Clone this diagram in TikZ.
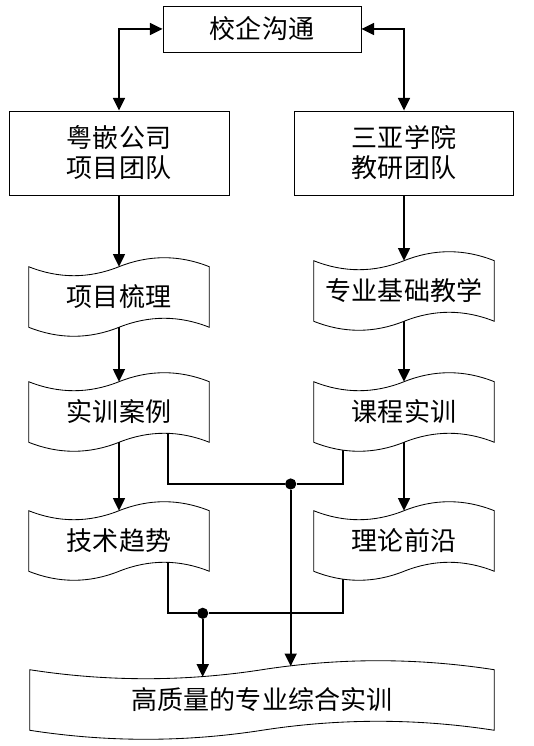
\documentclass[tikz,border=0pt]{standalone}
\usepackage{fontspec}
\newfontfamily\cjk{Noto Sans CJK SC}
\usetikzlibrary{arrows.meta,calc}

\pgfdeclarelayer{bg}
\pgfsetlayers{bg,main}

% wavy outline (punched tape) round a named node
\newcommand\wavebox[1]{%
  \draw[semithick,fill=white] (#1.north west)
    .. controls ($(#1.north west)!0.333!(#1.north)+(0,-0.3)$) and ($(#1.north west)!0.667!(#1.north)+(0,-0.3)$) .. (#1.north)
    .. controls ($(#1.north)!0.333!(#1.north east)+(0,0.3)$) and ($(#1.north)!0.667!(#1.north east)+(0,0.3)$) .. (#1.north east)
    -- (#1.south east)
    .. controls ($(#1.south east)!0.333!(#1.south)+(0,0.3)$) and ($(#1.south east)!0.667!(#1.south)+(0,0.3)$) .. (#1.south)
    .. controls ($(#1.south)!0.333!(#1.south west)+(0,-0.3)$) and ($(#1.south)!0.667!(#1.south west)+(0,-0.3)$) .. (#1.south west)
    -- cycle;}

\tikzset{
  box/.style={draw,semithick,fill=white,inner sep=0pt,align=center},
  flag/.style={inner sep=0pt,minimum width=4.5cm,minimum height=1.5cm},
  arr/.style={very thick,-{Triangle[length=9pt,width=8.5pt]}},
  biarr/.style={very thick,{Triangle[length=9pt,width=8.5pt]}-{Triangle[length=9pt,width=8.5pt]}},
  link/.style={very thick},
  dot/.style={circle,fill,inner sep=0pt,minimum size=0.28cm}
}

\begin{document}
\begin{tikzpicture}[font=\cjk\fontsize{18.5}{21.3}\selectfont]
  \useasboundingbox (0,0) rectangle (13.325,18.65);

  \node[box,minimum width=4.95cm,minimum height=1.15cm] (comm) at (6.55,17.925) {校企沟通};
  \node[box,minimum width=5.5cm,minimum height=2.1cm] (teamL) at (2.975,14.825) {粤嵌公司\\项目团队};
  \node[box,minimum width=5.475cm,minimum height=2.1cm] (teamR) at (10.1,14.825) {三亚学院\\教研团队};

  \node[flag] (projL) at (2.975,11.225) {项目梳理};
  \node[flag] (caseL) at (2.975,8.35) {实训案例};
  \node[flag] (trendL) at (2.975,5.125) {技术趋势};
  \node[flag] (basicR) at (10.1,11.375) {专业基础教学};
  \node[flag] (courseR) at (10.1,8.35) {课程实训};
  \node[flag] (frontR) at (10.1,5.125) {理论前沿};
  \node[flag,minimum width=11.6cm] (final) at (6.55,1.15) {高质量的专业综合实训};

  \node[dot] (dotA) at (7.2675,6.55) {};
  \node[dot] (dotB) at (5.0675,3.3175) {};

  \draw[biarr] (comm.west) -| (teamL.north);
  \draw[biarr] (comm.east) -| (teamR.north);
  \draw[arr] (teamL.south) -- (projL.north);
  \draw[arr] (projL.south) -- (caseL.north);
  \draw[arr] (caseL.south) -- (trendL.north);
  \draw[arr] (teamR.south) -- (basicR.north);
  \draw[arr] (basicR.south) -- (courseR.north);
  \draw[arr] (courseR.south) -- (frontR.north);

  \begin{pgfonlayer}{bg}
    \draw[link] ([xshift=1.2175cm]caseL.center) |- (dotA) -| ([xshift=-1.5175cm]courseR.center);
    \draw[link] ([xshift=1.2175cm]trendL.center) |- (dotB) -| ([xshift=-1.5175cm]frontR.center);
    \foreach \n in {projL,caseL,trendL,basicR,courseR,frontR,final}
      \wavebox{\n};
  \end{pgfonlayer}

  \draw[arr] (dotA) -- ($(dotA |- final.center)+(0,0.845)$);
  \draw[arr] (dotB) -- ($(dotB |- final.center)+(0,0.579)$);
\end{tikzpicture}
\end{document}
